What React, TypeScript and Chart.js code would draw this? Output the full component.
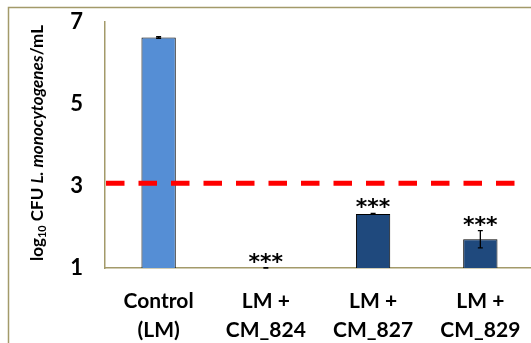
import React, { useEffect, useRef } from "react";
import { Chart, registerables } from "chart.js";

Chart.register(...registerables);

const categories: string[][] = [
  ["Control", "(LM)"],
  ["LM +", "CM_824"],
  ["LM +", "CM_827"],
  ["LM +", "CM_829"],
];
const meanValues = [6.62, 1.0, 2.32, 1.7];
const errorValues = [0.02, 0.01, 0.01, 0.21];
const significance = ["", "***", "***", "***"];
const yTicks = [1, 3, 5, 7];
const thresholdValue = 3.07;
const barColors = ["#558ED5", "#1F497D", "#1F497D", "#1F497D"];

const AXIS_COLOR = "#A39A6A";
const FONT = "Lato, 'Open Sans', sans-serif";

export default function App() {
  const ref = useRef<HTMLCanvasElement | null>(null);

  useEffect(() => {
    if (!ref.current) return;

    const overlay = {
      id: "overlay",
      beforeDraw(chart: any) {
        const ctx = chart.ctx;
        ctx.save();
        ctx.fillStyle = "#ffffff";
        ctx.fillRect(0, 0, chart.width, chart.height);
        ctx.strokeStyle = AXIS_COLOR;
        ctx.lineWidth = 1.5;
        ctx.strokeRect(8.5, 7.5, chart.width + 20, chart.height + 20);
        ctx.restore();
      },
      afterDatasetsDraw(chart: any) {
        const ctx = chart.ctx;
        const x = chart.scales.x;
        const y = chart.scales.y;
        const area = chart.chartArea;
        ctx.save();
        // error bars
        ctx.strokeStyle = "#000";
        ctx.lineWidth = 1.3;
        meanValues.forEach((v, i) => {
          const cx = x.getPixelForValue(i);
          const e = errorValues[i];
          const top = y.getPixelForValue(v + e);
          const bot = y.getPixelForValue(Math.max(v - e, 1));
          ctx.beginPath();
          ctx.moveTo(cx, top);
          ctx.lineTo(cx, bot);
          ctx.moveTo(cx - 2.5, top);
          ctx.lineTo(cx + 2.5, top);
          ctx.moveTo(cx - 2.5, bot);
          ctx.lineTo(cx + 2.5, bot);
          ctx.stroke();
        });
        // threshold line
        const ty = y.getPixelForValue(thresholdValue);
        ctx.strokeStyle = "#FF0000";
        ctx.lineWidth = 5;
        ctx.setLineDash([18.5, 14]);
        ctx.beginPath();
        ctx.moveTo(area.left + 1, ty);
        ctx.lineTo(517, ty);
        ctx.stroke();
        ctx.setLineDash([]);
        // asterisks
        ctx.fillStyle = "#000";
        ctx.font = `bold 22px 'DejaVu Sans', sans-serif`;
        ctx.textAlign = "center";
        ctx.textBaseline = "alphabetic";
        meanValues.forEach((v, i) => {
          if (!significance[i]) return;
          const cx = x.getPixelForValue(i);
          const top = y.getPixelForValue(v + errorValues[i]);
          ctx.fillText(significance[i], cx, top + 1);
        });
        // y title
        ctx.translate(38, 143);
        ctx.rotate(-Math.PI / 2);
        ctx.textBaseline = "middle";
        ctx.textAlign = "left";
        const parts = [
          { t: "log", f: `bold 17px ${FONT}`, dy: 0 },
          { t: "10", f: `bold 11px ${FONT}`, dy: 4 },
          { t: " CFU ", f: `bold 17px ${FONT}`, dy: 0 },
          { t: "L. monocytogenes", f: `italic bold 17px ${FONT}`, dy: 0 },
          { t: "/mL", f: `bold 17px ${FONT}`, dy: 0 },
        ];
        let total = 0;
        parts.forEach((p) => {
          ctx.font = p.f;
          total += ctx.measureText(p.t).width;
        });
        let px = -total / 2;
        parts.forEach((p) => {
          ctx.font = p.f;
          ctx.fillText(p.t, px, p.dy);
          px += ctx.measureText(p.t).width;
        });
        ctx.restore();
      },
    };

    const chart = new Chart(ref.current, {
      type: "bar",
      data: {
        labels: categories,
        datasets: [
          {
            data: meanValues,
            backgroundColor: barColors,
            borderColor: "#000",
            borderWidth: 1,
            categoryPercentage: 1,
            barPercentage: 0.32,
          },
        ],
      },
      options: {
        animation: false,
        responsive: false,
        devicePixelRatio: 1,
        layout: { padding: { left: 0, right: 5, top: 22, bottom: 0 } },
        plugins: {
          legend: { display: false },
          tooltip: { enabled: false },
        },
        scales: {
          x: {
            grid: { display: false, drawTicks: false },
            border: { color: AXIS_COLOR, width: 1.5 },
            ticks: {
              color: "#000",
              font: { family: FONT, size: 21, weight: "bold", lineHeight: 1.38 },
              padding: 19,
              maxRotation: 0,
            },
            afterFit(scale: any) {
              scale.height = 343 - 268;
            },
          },
          y: {
            min: 1,
            max: 7,
            afterBuildTicks(scale: any) {
              scale.ticks = yTicks.map((v) => ({ value: v }));
            },
            grid: { display: false, drawTicks: false },
            border: { color: AXIS_COLOR, width: 1.5 },
            ticks: {
              color: "#000",
              font: { family: FONT, size: 22, weight: "bold" },
              padding: 22,
            },
            afterFit(scale: any) {
              scale.width = 105;
              scale.paddingTop = 0;
              scale.paddingBottom = 0;
            },
          },
        },
      },
      plugins: [overlay],
    });
    return () => chart.destroy();
  }, []);

  return (
    <div
      style={{
        position: "fixed",
        left: 0,
        top: 0,
        width: 531,
        height: 343,
        overflow: "hidden",
        background: "#fff",
      }}
    >
      <canvas ref={ref} width={540} height={343} style={{ width: 540, height: 343, display: "block" }} />
    </div>
  );
}
